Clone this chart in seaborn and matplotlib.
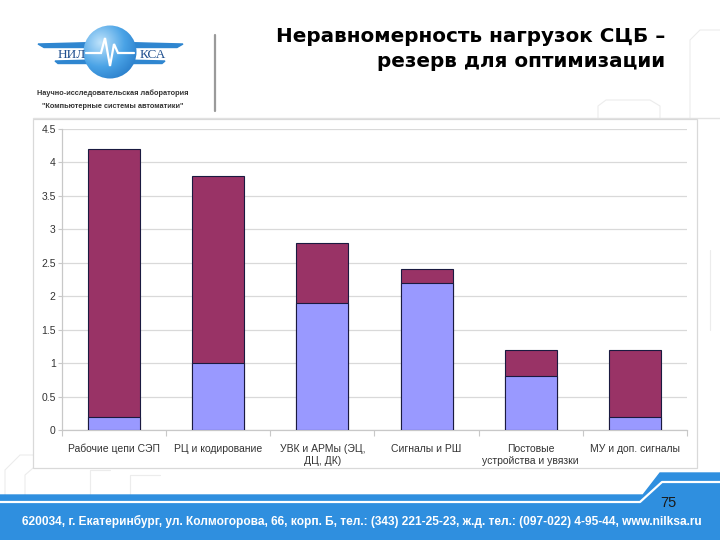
import numpy as np
import pandas as pd
import matplotlib
matplotlib.use("Agg")
import matplotlib.pyplot as plt
import seaborn as sns
from matplotlib.patches import Polygon, Rectangle, Circle

categories = ["Рабочие цепи СЭП", "РЦ и кодирование", "УВК и АРМы (ЭЦ,\nДЦ, ДК)",
              "Сигналы и РШ", "Постовые\nустройства и увязки", "МУ и доп. сигналы"]
lower_vals = [0.2, 1.0, 1.9, 2.2, 0.8, 0.2]
upper_vals = [4.0, 2.8, 0.9, 0.2, 0.4, 1.0]
y_ticks = [0, 0.5, 1, 1.5, 2, 2.5, 3, 3.5, 4, 4.5]
y_tick_labels = ["0", "0.5", "1", "1.5", "2", "2.5", "3", "3.5", "4", "4.5"]

title_text = "Неравномерность нагрузок СЦБ –\nрезерв для оптимизации"
footer_text = ("620034, г. Екатеринбург, ул. Колмогорова, 66, корп. Б, тел.: (343) 221-25-23, "
               "ж.д. тел.: (097-022) 4-95-44, www.nilksa.ru")
page_number = "75"

sns.set_theme(style="white")
plt.rcParams["font.family"] = ["Liberation Sans", "DejaVu Sans"]

W, H = 720, 540
fig = plt.figure(figsize=(7.2, 5.4), dpi=100)
fig.patch.set_facecolor("white")

# overlay axes in pixel coordinates
ov = fig.add_axes([0, 0, 1, 1], zorder=0)
ov.set_xlim(0, W)
ov.set_ylim(H, 0)
ov.axis("off")

# faint circuit decorations
deco = "#ececec"
for pts in [[(5, 495), (5, 470), (20, 455), (60, 455)],
            [(25, 495), (25, 475), (40, 462), (80, 462)],
            [(90, 495), (90, 470), (110, 470)],
            [(130, 495), (130, 475), (160, 475)],
            [(598, 118), (598, 106), (606, 100), (650, 100), (660, 106), (660, 118)],
            [(690, 118), (690, 40), (700, 30), (720, 30)],
            [(710, 250), (710, 330)]]:
    xs, ys = zip(*pts)
    ov.plot(xs, ys, color=deco, lw=0.8, zorder=0)

# header separator lines
ov.plot([215, 215], [35, 111], color="#9a9a9a", lw=1.6, zorder=1)
ov.plot([33, 720], [118, 118], color="#e3e3e3", lw=1.0, zorder=1)

# logo
blue = "#2f86d0"
ov.add_patch(Polygon([(38, 44), (95, 42.5), (95, 47.5), (44, 47.5)], closed=True, color=blue, zorder=2))
ov.add_patch(Polygon([(125, 42.5), (183, 44), (177, 47.5), (125, 47.5)], closed=True, color=blue, zorder=2))
ov.add_patch(Polygon([(55, 61), (95, 60), (95, 63.5), (58, 63.5)], closed=True, color=blue, zorder=2))
ov.add_patch(Polygon([(125, 60), (165, 61), (162, 63.5), (125, 63.5)], closed=True, color=blue, zorder=2))
# circle with radial gradient
yy, xx = np.mgrid[-1:1:200j, -1:1:200j]
rr = np.sqrt((xx + 0.35) ** 2 + (yy + 0.35) ** 2)
img = ov.imshow(rr, cmap=matplotlib.colors.LinearSegmentedColormap.from_list(
    "g", ["#bfe3fb", "#4aa3e6", "#1d6fbf"]), extent=(83, 137, 79, 25),
    zorder=3, vmin=0, vmax=1.8)
circ = Circle((110, 52), 26.5, transform=ov.transData)
img.set_clip_path(circ)
ov.plot([86, 101, 105, 110, 114, 118, 134], [53, 53, 38, 66, 44, 53, 53],
        color="white", lw=1.6, zorder=4, solid_joinstyle="miter")
ov.text(72, 55, "НИЛ", ha="center", va="center", fontsize=9.5, color="#1f4f8f",
        family=["Liberation Serif", "DejaVu Serif"], zorder=5)
ov.text(153, 55, "КСА", ha="center", va="center", fontsize=9.5, color="#1f4f8f",
        family=["Liberation Serif", "DejaVu Serif"], zorder=5)
ov.text(113, 93, "Научно-исследовательская лаборатория", ha="center", va="center",
        fontsize=5.3, fontweight="bold", color="#333333", zorder=5)
ov.text(113, 106, "\"Компьютерные системы автоматики\"", ha="center", va="center",
        fontsize=5.3, fontweight="bold", color="#333333", zorder=5)

# title
ov.text(665, 49, title_text, ha="right", va="center", fontsize=14.4, fontweight="bold",
        family=["DejaVu Sans"], color="black", linespacing=1.4, zorder=5)

# chart frame
ov.add_patch(Rectangle((33, 119), 664, 349, facecolor="white", edgecolor="#d9d9d9", lw=0.9, zorder=2))

# footer band
ov.add_patch(Polygon([(0, 495), (643, 495), (660, 473), (720, 473), (720, 540), (0, 540)],
                     closed=True, color="#2f8fdf", zorder=6))
ov.plot([0, 640, 662, 720], [502, 502, 482, 482], color="white", lw=1.6, zorder=7)
ov.text(668, 503, page_number, ha="center", va="center", fontsize=10.5, color="#1a1a1a", zorder=8)
ov.text(22, 521, footer_text, ha="left", va="center", fontsize=8.6, fontweight="bold",
        color="white", zorder=8)

# chart axes
ax = fig.add_axes([62 / W, 1 - 430 / H, (687 - 62) / W, (430 - 129) / H], zorder=1)
ax.set_facecolor("none")
df = pd.DataFrame({"cat": categories,
                   "lower": lower_vals,
                   "total": [a + b for a, b in zip(lower_vals, upper_vals)]})
sns.barplot(data=df, x="cat", y="total", color="#993366", saturation=1, width=0.5,
            edgecolor="#1a1a40", linewidth=0.8, ax=ax, zorder=3)
sns.barplot(data=df, x="cat", y="lower", color="#9999ff", saturation=1, width=0.5,
            edgecolor="#1a1a40", linewidth=0.8, ax=ax, zorder=4)
ax.set_ylim(0, 4.5)
ax.set_xlim(-0.5, len(categories) - 0.5)
ax.set_yticks(y_ticks)
ax.set_yticklabels(y_tick_labels)
ax.set_xlabel("")
ax.set_ylabel("")
ax.yaxis.grid(True, color="#d9d9d9", lw=0.9, zorder=0)
ax.set_axisbelow(True)
for s in ["top", "right"]:
    ax.spines[s].set_visible(False)
ax.spines["left"].set_color("#c8c8c8")
ax.spines["bottom"].set_color("#c8c8c8")
ax.spines["left"].set_linewidth(0.9)
ax.spines["bottom"].set_linewidth(0.9)
ax.tick_params(axis="y", left=True, length=3, width=0.8, color="#c8c8c8",
               labelsize=7.5, labelcolor="#333333", pad=1.5)
ax.tick_params(axis="x", bottom=False, labelsize=7.5, labelcolor="#333333", pad=4)
ax.set_xticks(range(len(categories)))
ax.set_xticklabels(categories, linespacing=1.3)
ax.set_xticks([i + 0.5 for i in range(-1, len(categories))], minor=True)
ax.tick_params(axis="x", which="minor", bottom=True, length=4, width=0.8, color="#c8c8c8")

fig.savefig("out.png", dpi=100)
